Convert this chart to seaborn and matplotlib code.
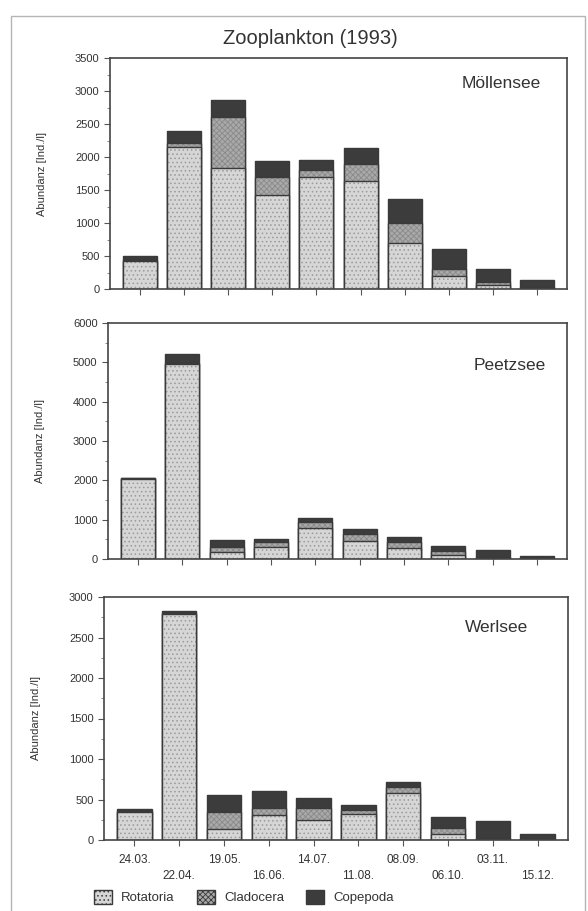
import numpy as np
import pandas as pd
import matplotlib
matplotlib.use("Agg")
import matplotlib.pyplot as plt
from matplotlib.patches import Patch, Rectangle
from matplotlib.ticker import MultipleLocator
import seaborn as sns

dates = ["24.03.", "22.04.", "19.05.", "16.06.", "14.07.",
         "11.08.", "08.09.", "06.10.", "03.11.", "15.12."]

# Möllensee
moel_rot = [420, 2150, 1830, 1430, 1700, 1630, 700, 200, 60, 20]
moel_cla = [20, 60, 770, 270, 100, 260, 300, 100, 40, 10]
moel_cop = [60, 190, 260, 240, 150, 250, 360, 300, 210, 100]

# Peetzsee
peet_rot = [2040, 4970, 170, 300, 780, 470, 270, 100, 30, 20]
peet_cla = [10, 10, 130, 120, 150, 170, 160, 100, 20, 10]
peet_cop = [20, 220, 190, 90, 120, 120, 130, 140, 180, 50]

# Werlsee
werl_rot = [340, 2790, 130, 310, 250, 320, 580, 70, 10, 5]
werl_cla = [20, 10, 210, 80, 150, 50, 80, 80, 10, 5]
werl_cop = [20, 30, 210, 220, 120, 60, 60, 140, 220, 65]

lakes = ["Möllensee", "Peetzsee", "Werlsee"]
groups = ["Rotatoria", "Cladocera", "Copepoda"]
ymax = [3500, 6000, 3000]
ystep = [500, 1000, 500]

sns.set_theme(style="white")
plt.rcParams["font.family"] = ["Liberation Sans", "DejaVu Sans"]
plt.rcParams["hatch.linewidth"] = 0.6

colors = {"Rotatoria": "#d6d6d6", "Cladocera": "#a9a9a9", "Copepoda": "#3c3c3c"}
hatches = {"Rotatoria": "....", "Cladocera": "xxxxxx", "Copepoda": None}
hatch_col = {"Rotatoria": "#9a9a9a", "Cladocera": "#8a8a8a", "Copepoda": "#3c3c3c"}
edge = "#3a3a3a"

fig = plt.figure(figsize=(5.88, 9.11), dpi=100)
W, H = 588, 911
boxes = [(110, 58, 567, 289), (108, 323, 567, 559), (104, 597, 568, 840)]
name_pos = [(501, 83), (510, 365), (497, 628)]
data = [(moel_rot, moel_cla, moel_cop), (peet_rot, peet_cla, peet_cop),
        (werl_rot, werl_cla, werl_cop)]

fig.add_artist(Rectangle((11 / W, -0.01), (585 - 11) / W, 1 - 16 / H + 0.01,
                         transform=fig.transFigure, fill=False,
                         edgecolor="#b5b5b5", linewidth=1.0))

for i, (l, t, r, b) in enumerate(boxes):
    ax = fig.add_axes([l / W, 1 - b / H, (r - l) / W, (b - t) / H])
    rot, cla, cop = data[i]
    rot = np.array(rot); cla = np.array(cla); cop = np.array(cop)
    df = pd.DataFrame({"date": dates, "Rotatoria": rot,
                       "Cladocera": rot + cla, "Copepoda": rot + cla + cop})
    for g in ["Copepoda", "Cladocera", "Rotatoria"]:
        # filled, hatched body
        sns.barplot(data=df, x="date", y=g, ax=ax, color=colors[g],
                    saturation=1, width=0.77, edgecolor=hatch_col[g], linewidth=0,
                    hatch=hatches[g], order=dates)
        # outline
        sns.barplot(data=df, x="date", y=g, ax=ax, color=edge, fill=False,
                    saturation=1, width=0.77, linewidth=1.0, order=dates)
    ax.set_xlim(-0.68, 9.68)
    ax.set_ylim(0, ymax[i])
    ax.yaxis.set_major_locator(MultipleLocator(ystep[i]))
    ax.yaxis.set_minor_locator(MultipleLocator(ystep[i] / 2))
    ax.tick_params(axis="y", which="major", direction="out", length=4,
                   width=0.8, color="#555555", labelsize=8, labelcolor="#333333", left=True)
    ax.tick_params(axis="y", which="minor", direction="out", length=2,
                   width=0.6, color="#777777", left=True)
    ax.tick_params(axis="x", direction="out", length=4, width=0.8, pad=6,
                   color="#555555", bottom=True, labelsize=8.5, labelcolor="#333333")
    ax.set_ylabel("Abundanz [Ind./l]", fontsize=8, color="#333333", labelpad=20)
    ax.set_xlabel("")
    for s in ax.spines.values():
        s.set_color("#444444")
        s.set_linewidth(1.2)
    ax.text(name_pos[i][0] / W, 1 - name_pos[i][1] / H, lakes[i],
            transform=fig.transFigure, ha="center", va="center",
            fontsize=12.5, color="#333333")
    if i < 2:
        ax.set_xticklabels([])
    else:
        labs = [d if k % 2 == 0 else "\n" + d for k, d in enumerate(dates)]
        ax.set_xticks(range(len(dates)))
        ax.set_xticklabels(labs, linespacing=1.5)

fig.text(310 / W, 1 - 38 / H, "Zooplankton (1993)", ha="center", va="center",
         fontsize=14.5, color="#333333")

handles = [Patch(facecolor=colors[g], edgecolor=edge, hatch=hatches[g], label=g)
           for g in groups]
fig.legend(handles=handles, loc="center left", bbox_to_anchor=(82 / W, 1 - 897 / H),
           ncol=3, frameon=False, fontsize=9.5, handlelength=1.35, handleheight=1.35,
           columnspacing=1.7, handletextpad=0.7, labelcolor="#333333")

fig.savefig("out.png", dpi=100)
